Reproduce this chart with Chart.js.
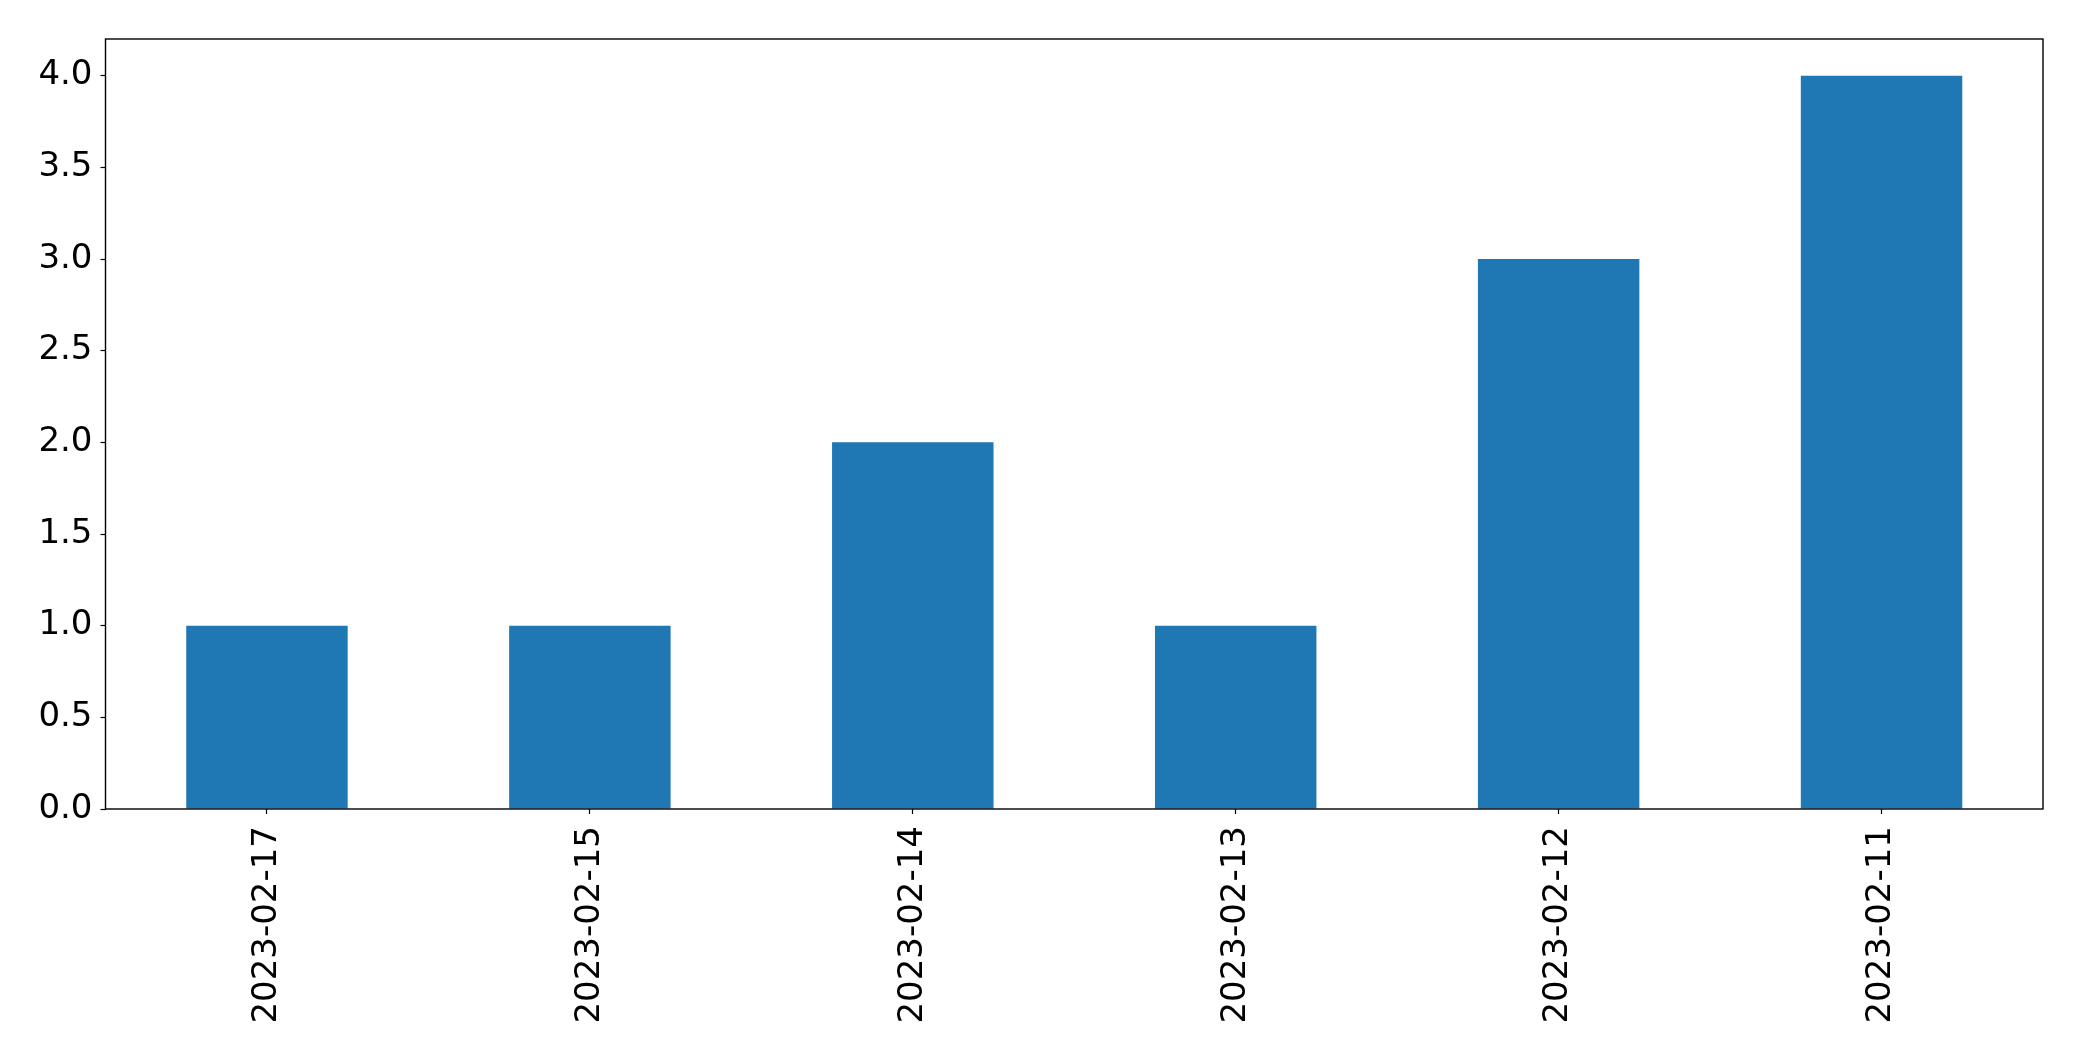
<!DOCTYPE html>
<html>
<head>
<meta charset="utf-8">
<script src="https://cdn.jsdelivr.net/npm/chart.js@4/dist/chart.umd.min.js"></script>
<style>
  html, body { margin: 0; padding: 0; background: #fff; }
  #wrap { width: 2082px; height: 1061px; }
</style>
</head>
<body>
<div id="wrap"><canvas id="myChart"></canvas></div>
<script>
const dates = ['2023-02-17', '2023-02-15', '2023-02-14', '2023-02-13', '2023-02-12', '2023-02-11'];
const counts = [1, 1, 2, 1, 3, 4];
const yTicks = [0, 0.5, 1, 1.5, 2, 2.5, 3, 3.5, 4];

window.onload = () => {
  const font = { family: 'DejaVu Sans', size: 34 };

  // matplotlib style frame around the plot area
  const frame = {
    id: 'frame',
    afterDraw(chart) {
      const { ctx, chartArea: a } = chart;
      ctx.save();
      ctx.strokeStyle = '#000';
      ctx.lineWidth = 1.4;
      ctx.strokeRect(a.left, a.top, a.right - a.left, a.bottom - a.top);
      ctx.restore();
    }
  };

  const ctx = document.querySelector('#myChart').getContext('2d');
  new Chart(ctx, {
    type: 'bar',
    data: {
      labels: dates,
      datasets: [{
        data: counts,
        backgroundColor: '#1f77b4',
        barPercentage: 0.5,
        categoryPercentage: 1
      }]
    },
    options: {
      responsive: true,
      maintainAspectRatio: false,
      animation: false,
      layout: { padding: { top: 39, right: 39, left: 0, bottom: 0 } },
      plugins: { legend: { display: false }, tooltip: { enabled: false } },
      scales: {
        x: {
          grid: { offset: false, drawOnChartArea: false, color: '#000', tickLength: 5, tickWidth: 1.2 },
          border: { display: false },
          ticks: { color: '#000', font, minRotation: 90, maxRotation: 90, padding: 12 },
          afterFit(scale) { scale.height = 252; }
        },
        y: {
          min: 0,
          max: 4.2,
          grid: { drawOnChartArea: false, color: '#000', tickLength: 5, tickWidth: 1.2 },
          border: { display: false },
          ticks: {
            color: '#000', font, padding: 8,
            callback: (v) => Number(v).toFixed(1)
          },
          afterBuildTicks(scale) { scale.ticks = yTicks.map(v => ({ value: v })); },
          afterFit(scale) { scale.width = 105.5; }
        }
      }
    },
    plugins: [frame]
  });
};
</script>
</body>
</html>
